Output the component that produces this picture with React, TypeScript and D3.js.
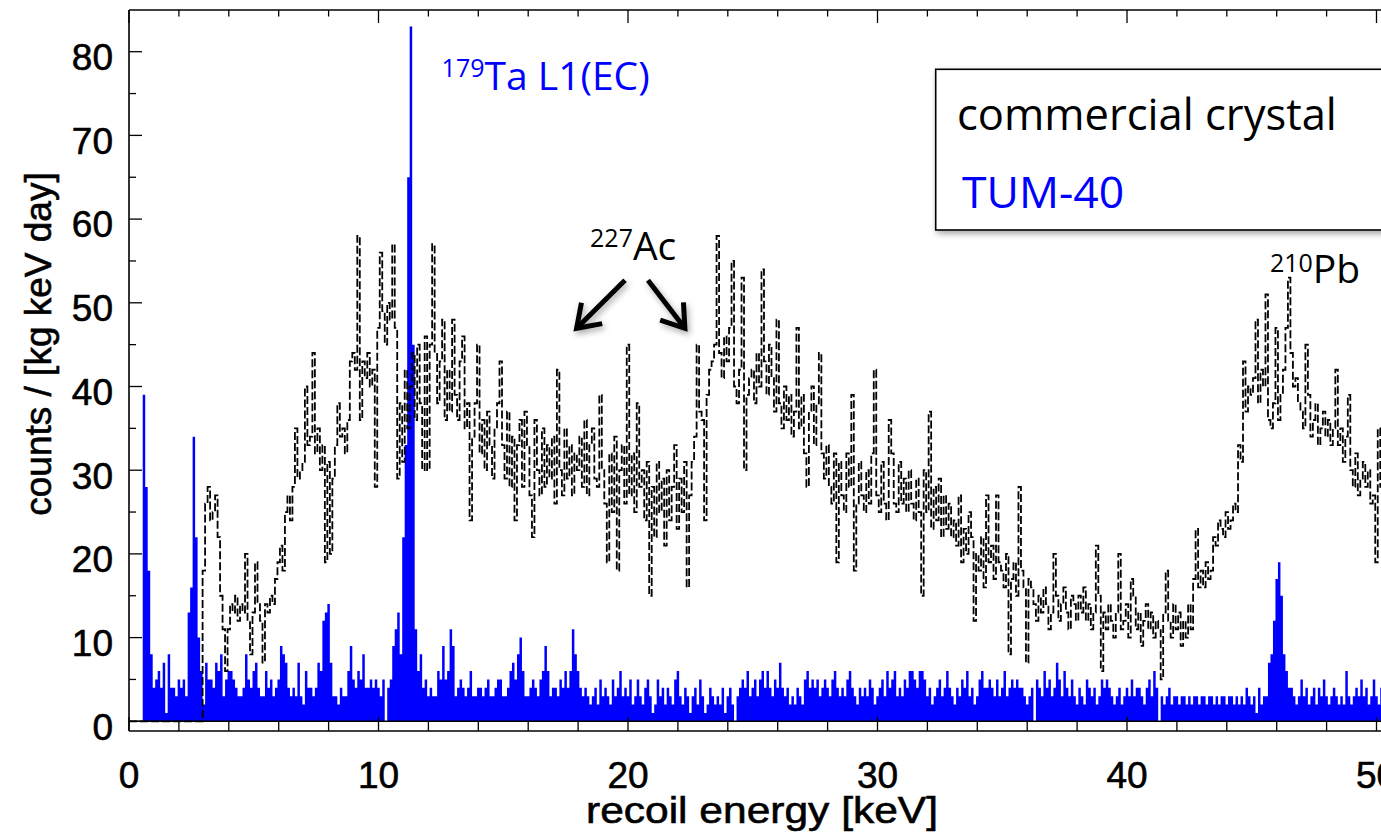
import React from "react";
import * as d3 from "d3";

// energy binning (keV)
const binWidth = 0.1;

// commercial crystal, black dashed histogram, first bin starts at 2.95 keV
const commercialStart = 2.95;
const commercialCounts = [
  18, 26, 28, 24, 25, 27, 22, 15, 11, 6,
  11, 14, 13, 15, 12, 14, 13, 20, 12, 8,
  13, 19, 14, 12, 7, 14, 13, 15, 14, 17,
  19, 21, 18, 25, 27, 24, 28, 35, 29, 30,
  31, 40, 33, 34, 44, 32, 35, 30, 33, 19,
  31, 20, 29, 33, 38, 34, 35, 32, 36, 43,
  44, 42, 58, 36, 43, 41, 44, 40, 42, 28,
  47, 56, 49, 45, 50, 48, 57, 47, 29, 38,
  31, 42, 35, 40, 44, 36, 45, 38, 30, 46,
  30, 45, 57, 44, 38, 43, 48, 36, 42, 37,
  48, 39, 36, 43, 46, 35, 38, 24, 34, 38,
  45, 32, 36, 30, 37, 33, 29, 35, 38, 43,
  33, 29, 37, 28, 34, 24, 33, 36, 28, 37,
  33, 27, 22, 36, 30, 27, 35, 28, 33, 29,
  34, 26, 42, 30, 27, 35, 29, 33, 27, 32,
  30, 34, 28, 36, 27, 33, 35, 29, 28, 39,
  30, 26, 19, 32, 25, 34, 18, 30, 33, 26,
  45, 27, 32, 25, 38, 28, 30, 24, 31, 15,
  28, 22, 31, 25, 29, 21, 30, 24, 28, 33,
  23, 29, 25, 31, 16, 27, 31, 34, 45, 37,
  36, 24, 39, 42, 43, 45, 58, 44, 41, 46,
  43, 47, 55, 40, 38, 42, 53, 30, 39, 41,
  42, 38, 44, 40, 54, 43, 39, 45, 41, 37,
  48, 38, 35, 40, 36, 39, 34, 37, 47, 35,
  39, 32, 28, 37, 40, 33, 38, 44, 32, 29,
  33, 28, 26, 32, 19, 31, 27, 25, 32, 28,
  39, 18, 26, 31, 27, 25, 30, 26, 32, 42,
  27, 25, 31, 26, 24, 36, 32, 26, 25, 31,
  26, 29, 25, 30, 26, 24, 29, 25, 15, 30,
  25, 37, 23, 28, 24, 29, 22, 27, 23, 26,
  22, 24, 21, 27, 19, 23, 20, 25, 22, 12,
  20, 18, 22, 16, 27, 19, 21, 17, 27, 19,
  18, 16, 20, 8, 17, 19, 15, 28, 18, 16,
  7, 17, 16, 14, 12, 15, 13, 16, 14, 11,
  13, 20, 15, 12, 14, 16, 13, 11, 15, 14,
  12, 15, 13, 16, 12, 14, 11, 13, 21, 15,
  6, 13, 11, 14, 12, 10, 13, 20, 11, 12,
  14, 10, 17, 15, 11, 13, 9, 12, 14, 11,
  13, 10, 12, 11, 5, 13, 18, 12, 10, 14,
  11, 13, 9, 12, 10, 14, 11, 17, 23, 16,
  18, 16, 19, 17, 18, 22, 21, 24, 23, 22,
  25, 23, 24, 26, 25, 33, 31, 43, 37, 40,
  39, 41, 48, 38, 42, 40, 51, 36, 35, 38,
  47, 36, 39, 42, 47, 53, 44, 40, 41, 38,
  37, 35, 45, 39, 34, 36, 38, 33, 35, 37,
  34, 36, 33, 35, 42, 33, 35, 31, 34, 39,
  30, 28, 32, 27, 29, 31, 28, 30, 26, 27,
  19, 35, 28, 27, 29, 28, 27, 29, 28, 30,
];

// TUM-40, blue filled histogram, first bin starts at 0.55 keV
const tumStart = 0.55;
const tumCounts = [
  39, 28, 18, 8, 4, 5, 6, 4, 7, 1,
  8, 4, 4, 3, 5, 4, 5, 3, 13, 16,
  34, 22, 10, 6, 2, 7, 5, 5, 4, 7,
  6, 8, 3, 5, 6, 6, 5, 4, 3, 3,
  4, 8, 5, 4, 6, 7, 4, 3, 3, 6,
  4, 5, 3, 4, 5, 9, 8, 7, 4, 3,
  4, 3, 7, 3, 2, 6, 4, 4, 3, 4,
  7, 6, 12, 13, 14, 7, 3, 3, 2, 4,
  3, 3, 6, 9, 5, 4, 6, 5, 8, 4,
  4, 5, 4, 5, 4, 3, 5, 0, 4, 5,
  9, 11, 13, 8, 22, 33, 65, 83, 45, 11,
  6, 8, 4, 5, 3, 4, 3, 3, 6, 5,
  9, 5, 6, 11, 9, 3, 4, 5, 4, 3,
  4, 6, 3, 3, 4, 4, 3, 4, 5, 3,
  3, 4, 5, 5, 3, 3, 4, 6, 7, 5,
  8, 10, 6, 3, 3, 4, 5, 4, 3, 5,
  6, 9, 6, 3, 4, 4, 3, 5, 4, 6,
  4, 6, 11, 8, 6, 4, 3, 4, 3, 2,
  3, 4, 2, 5, 3, 4, 3, 2, 5, 3,
  4, 6, 3, 4, 3, 5, 2, 3, 5, 3,
  2, 4, 5, 3, 1, 2, 5, 3, 4, 2,
  4, 3, 2, 5, 6, 3, 2, 4, 3, 1,
  3, 4, 2, 5, 3, 1, 2, 4, 3, 2,
  3, 2, 4, 1, 3, 4, 2, 0, 3, 4,
  5, 4, 6, 3, 4, 5, 3, 5, 6, 4,
  6, 4, 3, 5, 4, 7, 4, 3, 4, 2,
  3, 2, 4, 3, 2, 5, 6, 4, 5, 4,
  5, 3, 4, 5, 4, 3, 5, 6, 4, 3,
  4, 3, 5, 6, 4, 3, 2, 4, 3, 4,
  3, 5, 4, 2, 3, 4, 5, 3, 6, 4,
  5, 6, 3, 4, 3, 5, 4, 6, 6, 5,
  4, 6, 6, 5, 3, 4, 2, 3, 4, 5,
  3, 4, 6, 4, 3, 2, 4, 3, 5, 4,
  6, 3, 4, 2, 3, 5, 6, 4, 4, 5,
  4, 3, 5, 3, 4, 6, 3, 4, 5, 4,
  5, 4, 4, 3, 2, 3, 4, 0, 5, 4,
  3, 6, 4, 5, 3, 4, 7, 5, 3, 6,
  4, 3, 5, 3, 2, 4, 3, 2, 5, 4,
  3, 4, 2, 3, 5, 4, 5, 4, 3, 2,
  3, 4, 2, 3, 4, 3, 5, 3, 4, 4,
  3, 2, 4, 5, 3, 6, 4, 0, 3, 2,
  3, 4, 2, 3, 3, 2, 3, 3, 2, 3,
  2, 3, 3, 2, 3, 3, 2, 3, 3, 2,
  3, 2, 3, 3, 2, 3, 3, 2, 3, 2,
  3, 2, 4, 3, 2, 3, 1, 4, 2, 3,
  3, 7, 8, 12, 17, 19, 15, 8, 6, 4,
  4, 3, 2, 3, 5, 3, 4, 2, 3, 4,
  2, 4, 3, 5, 3, 2, 3, 4, 3, 2,
  3, 2, 6, 3, 2, 3, 4, 3, 5, 3,
  4, 2, 3, 5, 3, 2, 4, 3, 5, 3,
  4, 3, 3, 4, 2, 3, 4, 3, 2, 3,
];

const xMajorTicks = [0, 10, 20, 30, 40, 50];
const xMinorTicks = [2, 4, 6, 8, 12, 14, 16, 18, 22, 24, 26, 28, 32, 34, 36, 38, 42, 44, 46, 48, 52, 54];
const yMajorTicks = [0, 10, 20, 30, 40, 50, 60, 70, 80];
const yMinorTicks = [5, 15, 25, 35, 45, 55, 65, 75];

// arrows for 227Ac, [from keV, from counts, to keV, to counts]
const acArrows = [
  [19.88, 52.7, 17.94, 46.95],
  [20.8, 52.7, 22.28, 46.95],
];

const W = 1381;
const H = 832;
const left = 129;
const zeroY = 721.3;
const frameTop = 10;
const frameBottom = 731;

const axisFont = "'Liberation Sans', Arial, Helvetica, sans-serif";
const noteFont = "'Open Sans', 'Noto Sans', sans-serif";
const blue = "#0000ff";

const toPoints = (start: number, counts: number[]) => {
  const pts = counts.map((v, i) => [start + i * binWidth, v]);
  pts.push([start + counts.length * binWidth, counts[counts.length - 1]]);
  return pts;
};

export default function App() {
  const x = d3.scaleLinear().domain([0, 10]).range([left, left + 249.5]);
  const y = d3.scaleLinear().domain([0, 80]).range([zeroY, 51.7]);

  const blackPts = [[0, 0], ...toPoints(commercialStart, commercialCounts)];
  const bluePts = toPoints(tumStart, tumCounts);

  const line = d3
    .line<number[]>()
    .x((d) => x(d[0]))
    .y((d) => y(d[1]))
    .curve(d3.curveStepAfter);

  const area = d3
    .area<number[]>()
    .x((d) => x(d[0]))
    .y0(zeroY)
    .y1((d) => y(d[1]))
    .curve(d3.curveStepAfter);

  const arrowHead = (a: number[]) => {
    const x1 = x(a[0]), y1 = y(a[1]), x2 = x(a[2]), y2 = y(a[3]);
    const ang = Math.atan2(y1 - y2, x1 - x2);
    const len = 26;
    const w1 = [x2 + len * Math.cos(ang + 0.6), y2 + len * Math.sin(ang + 0.6)];
    const w2 = [x2 + len * Math.cos(ang - 0.6), y2 + len * Math.sin(ang - 0.6)];
    return `M${w1[0]},${w1[1]}L${x2},${y2}L${w2[0]},${w2[1]}`;
  };

  return (
    <div style={{ position: "absolute", left: 0, top: 0 }}>
      <svg width={W} height={H} style={{ display: "block", background: "#fff" }}>
        <defs>
          <clipPath id="plot">
            <rect x={left} y={frameTop} width={W - left} height={frameBottom - frameTop} />
          </clipPath>
          <filter id="shadow" x="-10%" y="-10%" width="130%" height="140%">
            <feDropShadow dx="2" dy="3" stdDeviation="3" floodColor="#000" floodOpacity="0.35" />
          </filter>
        </defs>

        <g clipPath="url(#plot)">
          <path d={area(bluePts) || ""} fill={blue} stroke="none" />
          <path
            d={line(blackPts) || ""}
            fill="none"
            stroke="#000"
            strokeWidth={1.8}
            strokeDasharray="8,3"
          />
        </g>

        {/* frame */}
        <g stroke="#000" strokeWidth={1.6} fill="none">
          <line x1={left} x2={W} y1={frameTop} y2={frameTop} />
          <line x1={left} x2={left} y1={frameTop} y2={frameBottom} />
          <line x1={left} x2={W} y1={frameBottom} y2={frameBottom} />
          <line x1={left} x2={W} y1={zeroY} y2={zeroY} />
        </g>

        {/* ticks */}
        <g stroke="#000" strokeWidth={1.3}>
          {xMajorTicks.map((t) => (
            <g key={"xM" + t}>
              <line x1={x(t)} x2={x(t)} y1={frameTop} y2={frameTop + 13} />
              <line x1={x(t)} x2={x(t)} y1={frameBottom} y2={frameBottom - 14} />
            </g>
          ))}
          {xMinorTicks.map((t) => (
            <g key={"xm" + t}>
              <line x1={x(t)} x2={x(t)} y1={frameTop} y2={frameTop + 6.5} />
              <line x1={x(t)} x2={x(t)} y1={frameBottom} y2={frameBottom - 10} />
            </g>
          ))}
          {yMajorTicks.map((t) => (
            <line key={"yM" + t} x1={left} x2={left + 13} y1={y(t)} y2={y(t)} />
          ))}
          {yMinorTicks.map((t) => (
            <line key={"ym" + t} x1={left} x2={left + 7} y1={y(t)} y2={y(t)} />
          ))}
        </g>

        {/* tick labels and axis titles */}
        <g fontFamily={axisFont} fontSize={37} fill="#000" stroke="#000" strokeWidth={0.6}>
          {xMajorTicks.map((t) => (
            <text key={"xl" + t} x={x(t)} y={788} textAnchor="middle">
              {t}
            </text>
          ))}
          {yMajorTicks.map((t) => (
            <text key={"yl" + t} x={113} y={y(t) + 18.3} textAnchor="end">
              {t}
            </text>
          ))}
          <text x={762} y={823} textAnchor="middle" textLength={352} lengthAdjust="spacingAndGlyphs">
            recoil energy [keV]
          </text>
          <text transform="translate(51,344) rotate(-90)" textAnchor="middle">
            counts / [kg keV day]
          </text>
        </g>

        {/* peak labels */}
        <text x={x(12.53)} y={y(75.4)} fontFamily={noteFont} fill={blue}>
          <tspan fontSize={25} dy={-13}>179</tspan>
          <tspan fontSize={39} dy={13}>Ta L1(EC)</tspan>
        </text>
        <text x={x(18.48)} y={y(55.1)} fontFamily={noteFont} fill="#000">
          <tspan fontSize={25} dy={-13}>227</tspan>
          <tspan fontSize={39} dy={13}>Ac</tspan>
        </text>
        <text x={x(45.73)} y={y(52.4)} fontFamily={noteFont} fill="#000">
          <tspan fontSize={25} dy={-11}>210</tspan>
          <tspan fontSize={39} dy={11}>Pb</tspan>
        </text>

        {/* arrows */}
        <g stroke="#000" strokeWidth={5} fill="none" filter="url(#shadow)">
          {acArrows.map((a, i) => (
            <g key={"ar" + i}>
              <line x1={x(a[0])} y1={y(a[1])} x2={x(a[2])} y2={y(a[3])} />
              <path d={arrowHead(a)} strokeLinejoin="miter" />
            </g>
          ))}
        </g>

        {/* legend */}
        <rect
          x={935.7}
          y={69.3}
          width={520}
          height={160.7}
          fill="#fff"
          stroke="#000"
          strokeWidth={1.6}
          filter="url(#shadow)"
        />
        <text x={957} y={130} fontFamily={noteFont} fontSize={43.5} fill="#000">
          commercial crystal
        </text>
        <text x={962} y={208} fontFamily={noteFont} fontSize={44.5} fill={blue}>
          TUM-40
        </text>
      </svg>
    </div>
  );
}
